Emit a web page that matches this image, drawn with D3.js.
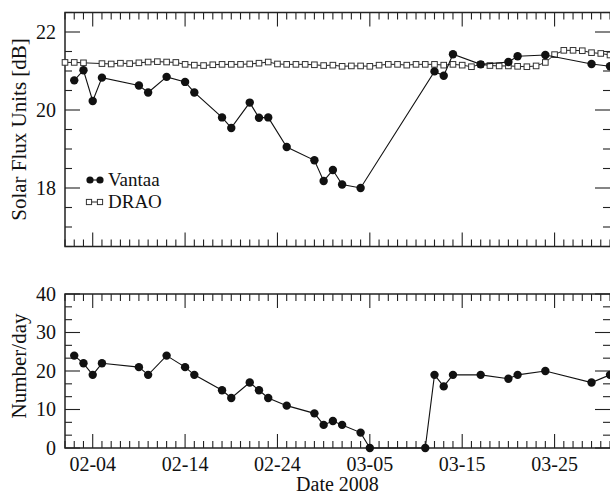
<!DOCTYPE html>
<html>
<head>
<meta charset="utf-8">
<script src="https://cdn.jsdelivr.net/npm/d3@7"></script>
<style>
body { margin: 0; background: #fff; }
text { font-family: "Liberation Serif", "Times New Roman", serif; fill: #111; }
</style>
</head>
<body>
<svg id="chart" width="610" height="496"></svg>
<script>
// Vantaa solar flux (top panel)
var vantaaDates = ["02-02","02-03","02-04","02-05","02-09","02-10","02-12","02-14","02-15","02-18",
    "02-19","02-21","02-22","02-23","02-25","02-28","02-29","03-01","03-02","03-04",
    "03-12","03-13","03-14","03-17","03-20","03-21","03-24","03-29","03-31"];
var vantaaFlux = [20.76,21.02,20.23,20.83,20.63,20.45,20.85,20.72,20.45,19.81,
    19.54,20.19,19.80,19.81,19.05,18.71,18.18,18.46,18.09,18.00,
    20.99,20.88,21.43,21.17,21.23,21.38,21.41,21.18,21.12];

// DRAO solar flux (top panel)
var draoDates = ["02-01","02-02","02-03","02-05","02-06","02-07","02-08","02-09","02-10","02-11",
    "02-12","02-13","02-14","02-15","02-16","02-17","02-18","02-19","02-20","02-21",
    "02-22","02-23","02-24","02-25","02-26","02-27","02-28","02-29","03-01","03-02",
    "03-03","03-04","03-05","03-06","03-07","03-08","03-09","03-10","03-11","03-12",
    "03-13","03-14","03-15","03-16","03-17","03-18","03-19","03-20","03-21","03-22",
    "03-23","03-24","03-25","03-26","03-27","03-28","03-29","03-30","03-31"];
var draoFlux = [21.22,21.22,21.21,21.19,21.18,21.20,21.19,21.21,21.23,21.24,
    21.23,21.22,21.17,21.15,21.14,21.16,21.17,21.17,21.17,21.18,
    21.20,21.23,21.18,21.17,21.17,21.17,21.16,21.14,21.15,21.12,
    21.13,21.13,21.12,21.15,21.17,21.17,21.15,21.17,21.17,21.17,
    21.15,21.17,21.15,21.11,21.17,21.14,21.13,21.13,21.12,21.11,
    21.13,21.22,21.42,21.53,21.53,21.52,21.47,21.45,21.41];

// Vantaa number per day (bottom panel)
var countDates = ["02-02","02-03","02-04","02-05","02-09","02-10","02-12","02-14","02-15","02-18",
    "02-19","02-21","02-22","02-23","02-25","02-28","02-29","03-01","03-02","03-04",
    "03-05","03-11","03-12","03-13","03-14","03-17","03-20","03-21","03-24","03-29","03-31"];
var countValues = [24,22,19,22,21,19,24,21,19,15,
    13,17,15,13,11,9,6,7,6,4,
    0,0,19,16,19,19,18,19,20,17,19];

var xTickLabels = ["02-04","02-14","02-24","03-05","03-15","03-25"];
var fluxTicks = [18, 20, 22];
var countTicks = [0, 10, 20, 30, 40];

var parseDay = d3.timeParse("%Y-%m-%d");
function day(s) { return parseDay("2008-" + s); }

var svg = d3.select("#chart");
var left = 65, right = 610;

var x = d3.scaleTime()
    .domain([day("02-01"), day("03-31")])
    .range([left, right]);

var yTop = d3.scaleLinear().domain([16.5, 22.5]).range([246.5, 12.5]);
var yBot = d3.scaleLinear().domain([0, 40]).range([448, 294]);

var majorDays = xTickLabels.map(day);
var allDays = d3.timeDay.range(day("02-01"), d3.timeDay.offset(day("03-31"), 1));
var minorDays = allDays.filter(d => !majorDays.some(m => +m == +d));

function drawFrame(y, majorY, minorY, showXLabels) {
    var y0 = y.range()[0], y1 = y.range()[1];
    var g = svg.append("g");

    // x ticks, bottom (pointing up) and top (pointing down)
    [[y0, -1], [y1, 1]].forEach(function (p) {
        g.selectAll(null).data(minorDays).join("line")
            .attr("x1", d => x(d)).attr("x2", d => x(d))
            .attr("y1", p[0]).attr("y2", p[0] + p[1] * 7)
            .attr("stroke", "#222").attr("stroke-width", 1.1);
        g.selectAll(null).data(majorDays).join("line")
            .attr("x1", d => x(d)).attr("x2", d => x(d))
            .attr("y1", p[0]).attr("y2", p[0] + p[1] * 14)
            .attr("stroke", "#222").attr("stroke-width", 1.1);
    });

    // y ticks, left and right
    [[left, 1], [right, -1]].forEach(function (p) {
        g.selectAll(null).data(minorY).join("line")
            .attr("x1", p[0]).attr("x2", p[0] + p[1] * 7)
            .attr("y1", d => y(d)).attr("y2", d => y(d))
            .attr("stroke", "#222").attr("stroke-width", 1.1);
        g.selectAll(null).data(majorY).join("line")
            .attr("x1", p[0]).attr("x2", p[0] + p[1] * 15)
            .attr("y1", d => y(d)).attr("y2", d => y(d))
            .attr("stroke", "#222").attr("stroke-width", 1.1);
    });

    g.append("rect")
        .attr("x", left).attr("y", y1)
        .attr("width", right - left + 2).attr("height", y0 - y1)
        .attr("fill", "none").attr("stroke", "#222").attr("stroke-width", 1.5);

    g.selectAll(null).data(majorY).join("text")
        .attr("x", left - 9).attr("y", d => y(d))
        .attr("dy", "0.34em")
        .attr("text-anchor", "end")
        .style("font-size", "20px")
        .text(d => d);

    if (showXLabels) {
        g.selectAll(null).data(majorDays).join("text")
            .attr("x", d => x(d)).attr("y", 471)
            .attr("text-anchor", "middle")
            .style("font-size", "20px")
            .text((d, i) => xTickLabels[i]);
    }
}

var fluxMinor = d3.range(16.5, 22.51, 0.5).filter(v => fluxTicks.indexOf(v) < 0);
var countMinor = d3.range(0, 40.01, 10 / 3).filter(v => Math.abs(v % 10) > 0.01 && Math.abs(v % 10 - 10) > 0.01);

drawFrame(yTop, fluxTicks, fluxMinor, false);
drawFrame(yBot, countTicks, countMinor, true);

// series
var vantaa = vantaaDates.map((d, i) => ({ date: day(d), v: vantaaFlux[i] }));
var drao = draoDates.map((d, i) => ({ date: day(d), v: draoFlux[i] }));
var counts = countDates.map((d, i) => ({ date: day(d), v: countValues[i] }));

function lineFor(y) {
    return d3.line().x(d => x(d.date)).y(d => y(d.v));
}

svg.append("path").datum(drao)
    .attr("d", lineFor(yTop))
    .attr("fill", "none").attr("stroke", "#222").attr("stroke-width", 1);
svg.selectAll(".sq").data(drao).join("rect")
    .attr("class", "sq")
    .attr("x", d => x(d.date) - 2.8).attr("y", d => yTop(d.v) - 2.8)
    .attr("width", 5.6).attr("height", 5.6)
    .attr("fill", "#fff").attr("stroke", "#333").attr("stroke-width", 1);

svg.append("path").datum(vantaa)
    .attr("d", lineFor(yTop))
    .attr("fill", "none").attr("stroke", "#111").attr("stroke-width", 1.1);
svg.selectAll(".vc").data(vantaa).join("circle")
    .attr("class", "vc")
    .attr("cx", d => x(d.date)).attr("cy", d => yTop(d.v))
    .attr("r", 4.2).attr("fill", "#111");

svg.append("path").datum(counts)
    .attr("d", lineFor(yBot))
    .attr("fill", "none").attr("stroke", "#111").attr("stroke-width", 1.1);
svg.selectAll(".cc").data(counts).join("circle")
    .attr("class", "cc")
    .attr("cx", d => x(d.date)).attr("cy", d => yBot(d.v))
    .attr("r", 4.2).attr("fill", "#111");

// legend
var legend = svg.append("g");
legend.append("line").attr("x1", 90).attr("x2", 100).attr("y1", 180).attr("y2", 180)
    .attr("stroke", "#111").attr("stroke-width", 1.1);
legend.selectAll("circle").data([90, 100]).join("circle")
    .attr("cx", d => d).attr("cy", 180).attr("r", 3.6).attr("fill", "#111");
legend.append("text").attr("x", 108).attr("y", 186).style("font-size", "19px").text("Vantaa");

legend.append("line").attr("x1", 89).attr("x2", 100).attr("y1", 202).attr("y2", 202)
    .attr("stroke", "#222").attr("stroke-width", 1);
legend.selectAll("rect").data([89, 100]).join("rect")
    .attr("x", d => d - 2.6).attr("y", 199.4).attr("width", 5.2).attr("height", 5.2)
    .attr("fill", "#fff").attr("stroke", "#333").attr("stroke-width", 1);
legend.append("text").attr("x", 108).attr("y", 208).style("font-size", "19px").text("DRAO");

// axis titles
svg.append("text")
    .attr("transform", "translate(26," + ((12.5 + 246.5) / 2) + ") rotate(-90)")
    .attr("text-anchor", "middle")
    .style("font-size", "21px")
    .text("Solar Flux Units [dB]");

svg.append("text")
    .attr("transform", "translate(26,366) rotate(-90)")
    .attr("text-anchor", "middle")
    .style("font-size", "21px")
    .text("Number/day");

svg.append("text")
    .attr("x", (left + right) / 2).attr("y", 491)
    .attr("text-anchor", "middle")
    .style("font-size", "20px")
    .text("Date 2008");
</script>
</body>
</html>
